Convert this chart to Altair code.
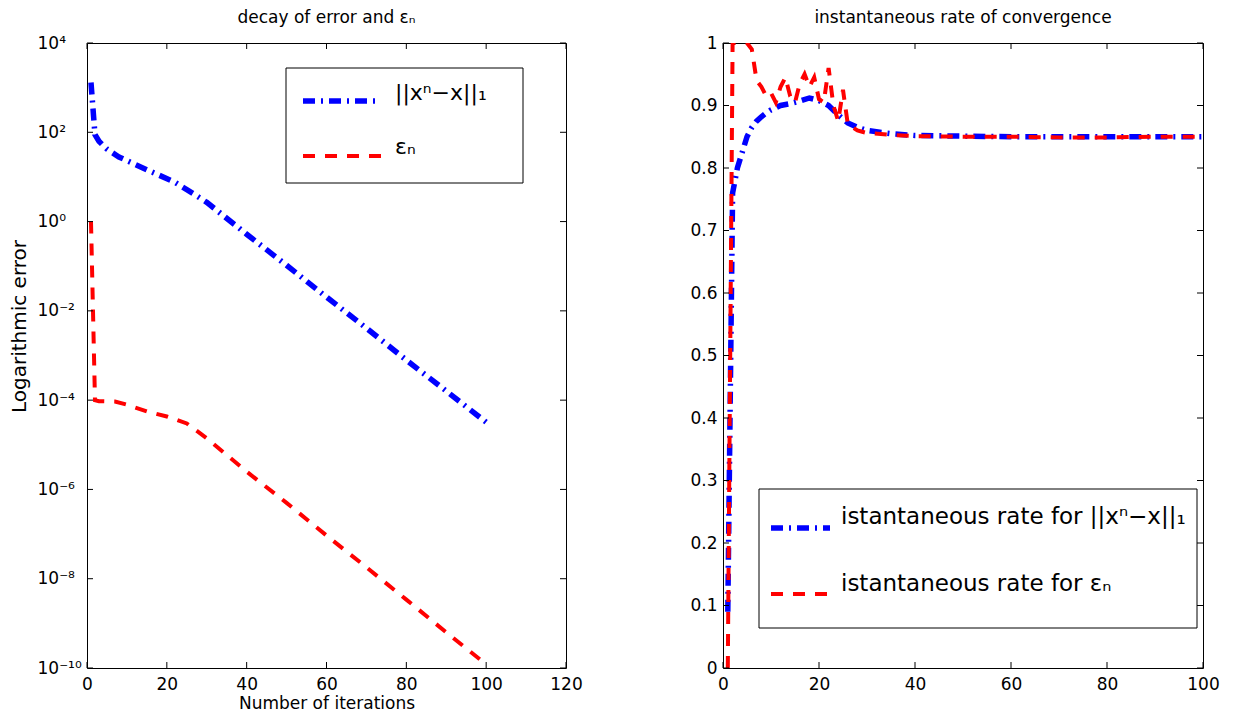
import altair as alt
import pandas as pd

# ---------------- data ----------------
# left panel: decay of error (log scale)
err_iter = [1, 2, 3, 5, 8, 15, 22, 25, 30, 40, 50, 60, 70, 80, 90, 100]
err_norm = [1.3e3, 89, 63, 42, 28, 14.5, 7.6, 5.2, 2.7, 0.52, 0.105, 0.0204,
            0.0041, 7.9e-4, 1.6e-4, 3.2e-5]
eps_iter = [1, 2, 3, 7, 10, 15, 20, 25, 30, 40, 50, 60, 70, 80, 90, 100]
eps_val = [1.0, 1.0e-4, 9.5e-5, 9.3e-5, 7.9e-5, 5.6e-5, 4.3e-5, 3.0e-5, 1.4e-5,
           2.5e-6, 5.0e-7, 9.3e-8, 1.8e-8, 3.4e-9, 6.3e-10, 1.2e-10]

# right panel: instantaneous rate of convergence
rate_norm_iter = [1, 2, 3, 4, 5, 6, 7, 8, 9, 10, 12, 14, 16, 18, 20, 22, 24, 26,
                  28, 30, 35, 40, 50, 60, 80, 100]
rate_norm = [0.09, 0.76, 0.80, 0.825, 0.85, 0.865, 0.875, 0.882, 0.888, 0.893,
             0.90, 0.903, 0.907, 0.912, 0.908, 0.90, 0.885, 0.872, 0.865, 0.86,
             0.855, 0.852, 0.851, 0.85, 0.85, 0.85]
rate_eps_iter = [1, 2, 3, 4, 5, 6, 7, 8, 9, 10, 11, 12, 13, 14, 15, 16, 17, 18,
                 19, 20, 21, 22, 23, 24, 25, 26, 27, 28, 29, 30, 35, 40, 50, 60,
                 70, 80, 90, 100]
rate_eps = [0.0, 1.0, 1.0, 1.0, 1.0, 0.99, 0.94, 0.93, 0.915, 0.92,
            0.905, 0.93, 0.945, 0.915, 0.905, 0.935, 0.95, 0.93, 0.945, 0.91,
            0.905, 0.96, 0.90, 0.875, 0.925, 0.87, 0.865, 0.86, 0.858, 0.856,
            0.853, 0.851, 0.85, 0.85, 0.849, 0.849, 0.85, 0.85]

left_xticks = [0, 20, 40, 60, 80, 100, 120]
left_yticks = [1e4, 1e2, 1e0, 1e-2, 1e-4, 1e-6, 1e-8, 1e-10]
right_xticks = [0, 20, 40, 60, 80, 100]
right_yticks = [0, 0.1, 0.2, 0.3, 0.4, 0.5, 0.6, 0.7, 0.8, 0.9, 1.0]

left_title = "decay of error and εₙ"
right_title = "instantaneous rate of convergence"
left_legend = ["||xⁿ−x||₁", "εₙ"]
right_legend = ["istantaneous rate for ||xⁿ−x||₁", "istantaneous rate for εₙ"]

# ---------------- style ----------------
FONT = "DejaVu Sans"
W_L, W_R, H = 479, 480, 625
BLUE, RED = "#0000ff", "#ff0000"
BLUE_DASH, RED_DASH = [12, 6, 2, 6], [12, 10]
BLUE_W, RED_W = 5.5, 4
TL = 6  # inner tick length
TITLE_OFFSET = -6

log_label = ("datum.value > 1000 ? '10⁴' : datum.value > 10 ? '10²' : "
             "datum.value > 0.1 ? '10⁰' : datum.value > 0.001 ? '10⁻²' : "
             "datum.value > 0.00001 ? '10⁻⁴' : datum.value > 0.0000001 ? '10⁻⁶' : "
             "datum.value > 0.000000001 ? '10⁻⁸' : '10⁻¹⁰'")


def frame_ticks(xticks, yticks, xs, ys, xax, yax, W):
    tx = pd.DataFrame({"n": xticks})
    ty = pd.DataFrame({"v": yticks})
    base_x = alt.Chart(tx).mark_rule(color="black", strokeWidth=1)
    base_y = alt.Chart(ty).mark_rule(color="black", strokeWidth=1)
    xe = alt.X("n:Q", scale=xs, axis=xax)
    ye = alt.Y("v:Q", scale=ys, axis=yax)
    return [
        base_x.encode(x=xe, y=alt.value(0), y2=alt.value(TL)),
        base_x.encode(x=xe, y=alt.value(H), y2=alt.value(H - TL)),
        base_y.encode(y=ye, x=alt.value(0), x2=alt.value(TL)),
        base_y.encode(y=ye, x=alt.value(W), x2=alt.value(W - TL)),
    ]


def legend_layers(labels, box, sym_x, rows_y, label_x, label_y, size):
    one = pd.DataFrame({"a": [0]})
    layers = [alt.Chart(one).mark_rect(fill="white", stroke="black", strokeWidth=1).encode(
        x=alt.value(box[0]), x2=alt.value(box[1]), y=alt.value(box[2]), y2=alt.value(box[3]))]
    styles = [(BLUE, BLUE_DASH, BLUE_W), (RED, RED_DASH, RED_W)]
    for lab, (c, d, w), ry, ly in zip(labels, styles, rows_y, label_y):
        layers.append(alt.Chart(one).mark_rule(color=c, strokeDash=d, strokeWidth=w).encode(
            x=alt.value(sym_x[0]), x2=alt.value(sym_x[1]), y=alt.value(ry)))
        layers.append(alt.Chart(one).mark_text(align="left", baseline="alphabetic", font=FONT,
                                               fontSize=size, color="black").encode(
            x=alt.value(label_x), y=alt.value(ly), text=alt.value(lab)))
    return layers


# ---------------- left panel ----------------
xs_l = alt.Scale(domain=[0, 120], nice=False, zero=False)
ys_l = alt.Scale(type="log", domain=[1e-10, 1e4], nice=False)
xax_l = alt.Axis(values=left_xticks, format="d", title="Number of iterations",
                 labelPadding=8, titlePadding=3, titleFontSize=17)
yax_l = alt.Axis(values=left_yticks, labelExpr=log_label, title="Logarithmic error",
                 labelAlign="left", labelPadding=50, titlePadding=8, titleFontSize=20,
                 titleY=283)

df_err = pd.DataFrame({"n": err_iter, "v": err_norm})
df_eps = pd.DataFrame({"n": eps_iter, "v": eps_val})

l_blue = alt.Chart(df_err).mark_line(color=BLUE, strokeWidth=BLUE_W, strokeDash=BLUE_DASH,
                                      clip=True).encode(
    x=alt.X("n:Q", scale=xs_l, axis=xax_l), y=alt.Y("v:Q", scale=ys_l, axis=yax_l))
l_red = alt.Chart(df_eps).mark_line(color=RED, strokeWidth=RED_W, strokeDash=RED_DASH,
                                     clip=True).encode(
    x=alt.X("n:Q", scale=xs_l, axis=xax_l), y=alt.Y("v:Q", scale=ys_l, axis=yax_l))

left = alt.layer(
    l_blue, l_red,
    *frame_ticks(left_xticks, left_yticks, xs_l, ys_l, xax_l, yax_l, W_L),
    *legend_layers(left_legend, (199, 436, 25, 140), (216, 294), (58, 113), 308, (57, 111), 22),
).properties(
    width=W_L, height=H,
    title=alt.TitleParams(left_title, font=FONT, fontSize=17, fontWeight="normal",
                          anchor="middle", baseline="alphabetic", offset=TITLE_OFFSET,
                          color="black"),
)

# ---------------- right panel ----------------
xs_r = alt.Scale(domain=[0, 100], nice=False, zero=False)
ys_r = alt.Scale(domain=[0, 1], nice=False, zero=False)
xax_r = alt.Axis(values=right_xticks, format="d", title=None, labelPadding=8)
yax_r = alt.Axis(values=right_yticks, title=None, labelPadding=6,
                 labelExpr="datum.value == 0 ? '0' : datum.value == 1 ? '1' : format(datum.value, '.1f')")

df_rn = pd.DataFrame({"n": rate_norm_iter, "v": rate_norm})
df_re = pd.DataFrame({"n": rate_eps_iter, "v": rate_eps})

r_blue = alt.Chart(df_rn).mark_line(color=BLUE, strokeWidth=BLUE_W, strokeDash=BLUE_DASH,
                                     clip=True).encode(
    x=alt.X("n:Q", scale=xs_r, axis=xax_r), y=alt.Y("v:Q", scale=ys_r, axis=yax_r))
r_red = alt.Chart(df_re).mark_line(color=RED, strokeWidth=RED_W, strokeDash=RED_DASH,
                                    clip=True).encode(
    x=alt.X("n:Q", scale=xs_r, axis=xax_r), y=alt.Y("v:Q", scale=ys_r, axis=yax_r))

right = alt.layer(
    r_blue, r_red,
    *frame_ticks(right_xticks, right_yticks, xs_r, ys_r, xax_r, yax_r, W_R),
    *legend_layers(right_legend, (36, 474, 446, 585), (48, 107), (485, 551), 118, (481, 548), 23),
).properties(
    width=W_R, height=H,
    title=alt.TitleParams(right_title, font=FONT, fontSize=17, fontWeight="normal",
                          anchor="middle", baseline="alphabetic", offset=TITLE_OFFSET,
                          color="black"),
)

chart = alt.hconcat(left, right, spacing=106).properties(
    padding={"left": 0, "top": 0, "right": 5, "bottom": 0}
).configure_view(
    stroke="black", strokeWidth=1
).configure_axis(
    labelFont=FONT, titleFont=FONT, labelFontSize=17, labelColor="black",
    titleColor="black", titleFontWeight="normal", ticks=False, tickSize=0,
    domain=False, grid=False, labelFlush=False, labelOverlap=False,
)

chart.save("out.html", embed_options={"renderer": "svg", "actions": False})
